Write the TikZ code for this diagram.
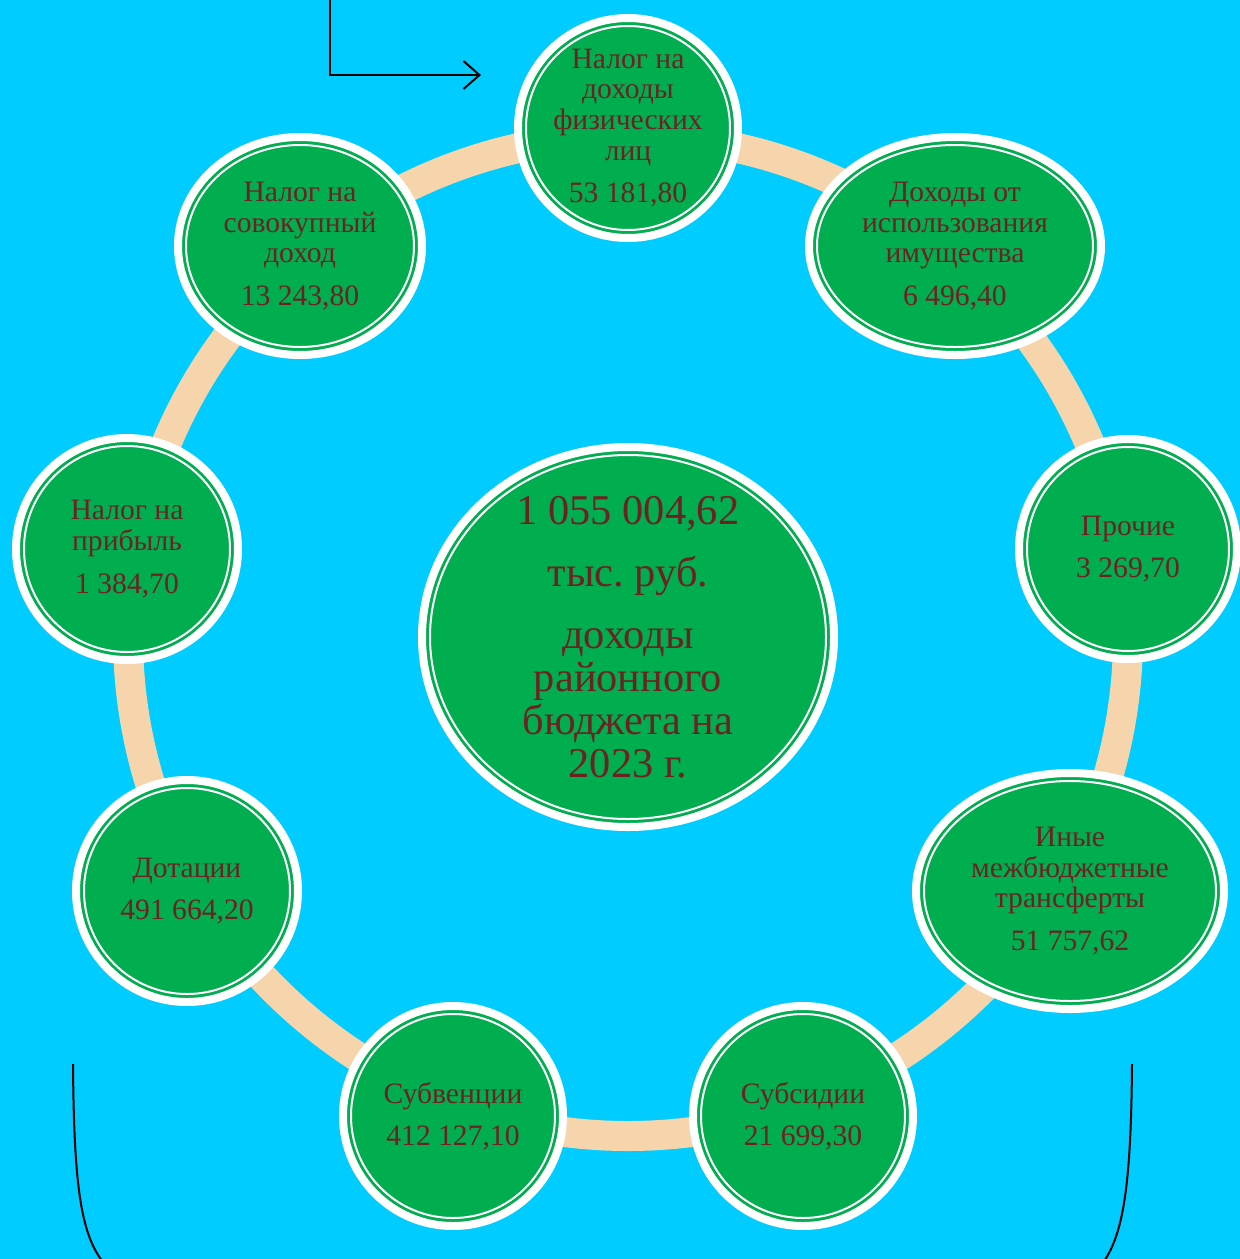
\documentclass[tikz,border=0pt]{standalone}
\usepackage{fontspec}
\setmainfont{Liberation Serif}
\frenchspacing
\usetikzlibrary{shapes.geometric,arrows.meta}
\definecolor{bg}{HTML}{00CCFF}
\definecolor{nodegreen}{HTML}{00AD4F}
\definecolor{ringpeach}{HTML}{F6D5AD}
\definecolor{textred}{HTML}{6D2222}
\newcommand\bub[6]{%
  \node[bubble, minimum width={(#4-4)*1pt}, minimum height={(#5-4)*1pt}] (#1) at (#2,#3) {#6};
  \draw[innerring] (#1.center) ellipse [x radius={(#4-12)*0.5pt}, y radius={(#5-12)*0.5pt}];}
\begin{document}
\begin{tikzpicture}[x=0.5pt,y=-0.5pt,
  bubble/.style={ellipse, fill=nodegreen, draw=white, line width=4pt, inner sep=-12pt,
    text=textred, align=center, font=\fontsize{14.8}{15.3}\selectfont},
  bigbubble/.style={bubble, inner sep=-25pt, font=\fontsize{21.2}{21.5}\selectfont},
  innerring/.style={draw=white, line width=1pt},
  ringline/.style={draw=ringpeach, line width=15pt},
  bracketline/.style={draw=black, line width=1pt},
  arrowline/.style={draw=black, line width=1pt, -{Straight Barb[length=8pt,width=14pt,line width=1pt]}}]
\useasboundingbox (0,0) rectangle (1240,1259);
\fill[bg] (0,0) rectangle (1240,1259);
\begin{scope}
\clip (0,0) rectangle (1240,1259);
\coordinate (ringc) at (628,636);
\draw[ringline] (ringc) circle [radius=500];
\coordinate (bl1) at (73,1064);
\coordinate (bl2) at (108,1268);
\coordinate (br1) at (1132,1064);
\coordinate (br2) at (1099,1268);
\draw[bracketline] (bl1) .. controls (74,1195) and (82,1240) .. (bl2);
\draw[bracketline] (br1) .. controls (1131,1195) and (1122,1240) .. (br2);
\end{scope}

\bub{ndfl}{628}{128}{114}{114}{Налог на\\доходы\\физических\\лиц\\[6pt]53 181,80}
\bub{imush}{955}{246}{150}{113}{Доходы от\\использования\\имущества\\[6pt]6 496,40}
\bub{proch}{1128}{549}{113}{114}{Прочие\\[6pt]3 269,70}
\bub{inye}{1070}{891}{158}{122}{Иные\\межбюджетные\\трансферты\\[6pt]51 757,62}
\bub{subs}{803}{1116}{114}{114}{Субсидии\\[6pt]21 699,30}
\bub{subv}{453}{1116}{114}{114}{Субвенции\\[6pt]412 127,10}
\bub{dot}{187}{891}{115}{115}{Дотации\\[6pt]491 664,20}
\bub{prib}{127}{549}{115}{115}{Налог на\\прибыль\\[6pt]1 384,70}
\bub{sovok}{300}{246}{126}{113}{Налог на\\совокупный\\доход\\[6pt]13 243,80}

\node[bigbubble, minimum width={(210-4)*1pt}, minimum height={(194-4)*1pt}] (center) at (628,637)
  {1 055 004,62\\[9.5pt]тыс. руб.\\[9.5pt]доходы\\районного\\бюджета на\\2023 г.};
\draw[innerring] (center.center) ellipse [x radius={(210-12)*0.5pt}, y radius={(194-12)*0.5pt}];

\coordinate (a0) at (330,-2);
\coordinate (a1) at (330,75);
\coordinate (a2) at (481,75);
\draw[arrowline] (a0) -- (a1) -- (a2);
\end{tikzpicture}
\end{document}
